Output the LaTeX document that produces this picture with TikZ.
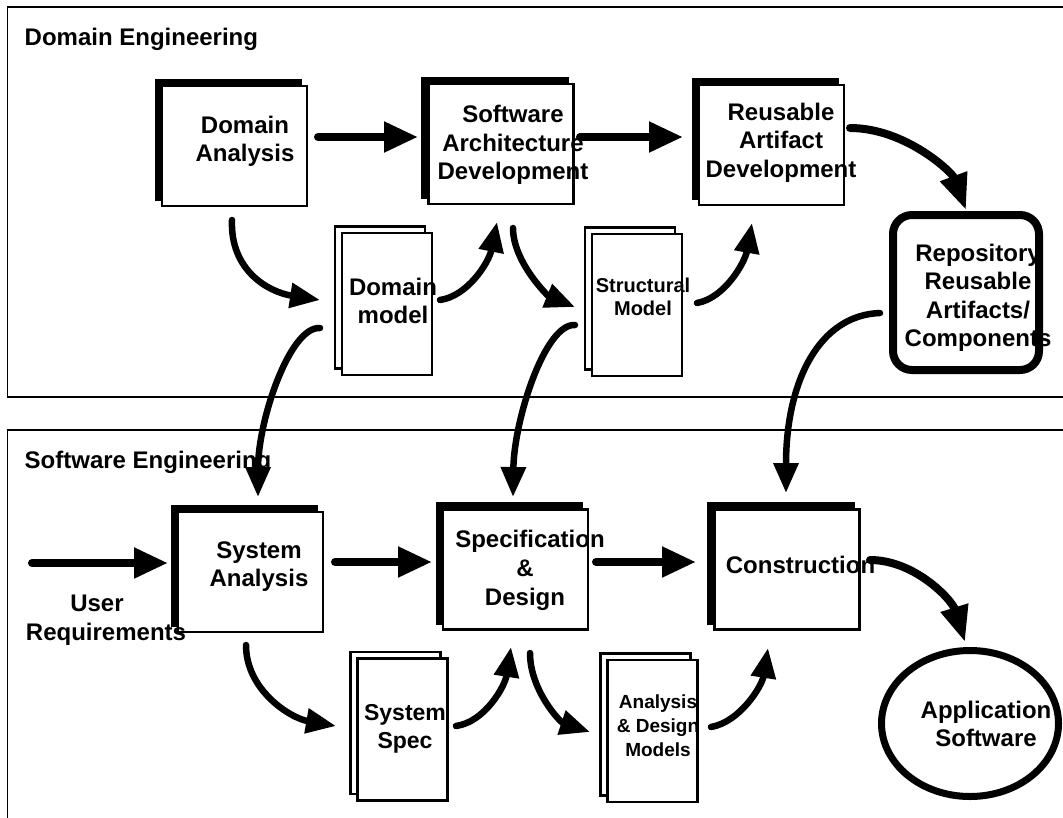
\documentclass[tikz,border=0pt]{standalone}
\usepackage{fontspec}
\setmainfont{Liberation Sans}
\usetikzlibrary{arrows.meta,shapes.geometric,shadows}

\tikzset{
  boxlabel/.style={font=\bfseries\fontsize{24}{28.5}\selectfont, align=center, inner sep=0pt},
  smalllabel/.style={font=\bfseries\fontsize{20}{23}\selectfont, align=center, inner sep=0pt},
  tinylabel/.style={font=\bfseries\fontsize{19}{24}\selectfont, align=center, inner sep=0pt},
  specfont/.style={font=\bfseries\fontsize{23}{28}\selectfont, align=center, inner sep=0pt},
  stepbox/.style={draw=black, fill=white, line width=2.2pt,
    minimum width=145pt, minimum height=120pt, inner sep=0pt, outer sep=0pt,
    general shadow={fill=black, draw=black, shadow xshift=-6pt, shadow yshift=6pt}},
  docsheet/.style={draw=black, fill=white, line width=2.6pt,
    minimum width=90pt, minimum height=142pt, inner sep=0pt, outer sep=0pt,
    general shadow={fill=white, draw=black, line width=2.6pt, shadow xshift=-7pt, shadow yshift=6.5pt}},
  storebox/.style={draw=black, fill=white, line width=8pt, rounded corners=19pt,
    minimum width=146pt, minimum height=155pt, inner sep=0pt, outer sep=0pt},
  productoval/.style={ellipse, draw=black, fill=white, line width=7pt,
    minimum width=177pt, minimum height=146pt, inner sep=0pt, outer sep=0pt},
  panel/.style={draw=black, line width=1.3pt},
  linkstraight/.style={line width=8pt, line cap=round, -{Triangle[length=34pt,width=29pt]}},
  linkcurve/.style={line width=6.5pt, line cap=round, -{Triangle[length=30pt,width=24pt]}},
  linkbig/.style={line width=8pt, line cap=round, -{Triangle[length=36pt,width=27pt]}},
}

\begin{document}
\begin{tikzpicture}[x=1pt,y=-1pt]
  \useasboundingbox (0,0) rectangle (1063,817);
  \clip (0,0) rectangle (1063,817);

  % the two process areas
  \draw[panel] (7.5,7) rectangle (1075,397);
  \draw[panel] (7.5,430) rectangle (1075,840);
  \node[boxlabel, anchor=west] (detitle) at (24.5,39.5) {Domain Engineering};
  \node[boxlabel, anchor=west] (setitle) at (24.5,462.5) {Software Engineering};

  % domain engineering activities
  \node[stepbox, label={[boxlabel, xshift=10.5pt, yshift=4.5pt]center:Domain\\Analysis}] (da) at (234.5,146) {};
  \node[stepbox, label={[boxlabel, xshift=12pt, yshift=-1pt]center:Software\\Architecture\\Development}] (sad) at (501,144) {};
  \node[stepbox, label={[boxlabel, xshift=9.5pt, yshift=2.5pt]center:Reusable\\Artifact\\Development}] (rad) at (771.5,145) {};
  \node[storebox, label={[boxlabel, xshift=12pt, yshift=-5.5pt]center:Repository\\Reusable\\Artifacts/\\Components}] (repo) at (966,292.5) {};

  % domain work products
  \node[docsheet, label={[boxlabel, xshift=6pt, yshift=3pt]center:Domain\\model}] (dm) at (387,304) {};
  \node[docsheet, label={[smalllabel, xshift=6pt, yshift=8.5pt]center:Structural\\Model}] (sm) at (637,305) {};

  % software engineering activities
  \node[stepbox, label={[boxlabel, font=\bfseries\fontsize{24}{29}\selectfont, xshift=9.5pt, yshift=-1pt]center:\hspace*{10pt}Specification\\\&\hspace*{11pt}\\Design}] (sd) at (515.5,569.5) {};
  \node[stepbox, label={[boxlabel, xshift=8.5pt, yshift=5.5pt]center:System\\Analysis}] (sa) at (250.5,572) {};
  \node[stepbox, label={[boxlabel, xshift=13.5pt, yshift=4.5pt]center:Construction}] (con) at (787,569.5) {};
  \node[productoval, label={[boxlabel, xshift=16pt, yshift=-0.5pt]center:Application\\Software}] (app) at (970,723.5) {};

  % software work products
  \node[docsheet, label={[specfont, xshift=2.5pt, yshift=1pt]center:System\\Spec}] (ss) at (402.5,729.5) {};
  \node[docsheet, label={[tinylabel, xshift=5.5pt, yshift=5pt]center:Analysis\\\& Design\\Models}] (ad) at (652.5,731) {};

  \node[boxlabel] (ureqtext) at (101.5,620) {User\hspace*{9pt}\\\hspace*{9pt}Requirements};
  \coordinate (ureq) at (32,563);

  % main flow
  \draw[linkstraight] ([shift={(11,-9)}]da.east) -- ([shift={(-10.5,-7)}]sad.west);
  \draw[linkstraight] ([shift={(6.5,-7)}]sad.east) -- ([shift={(-16,-8)}]rad.west);
  \draw[linkstraight] (ureq) -- ([shift={(-10,-9)}]sa.west);
  \draw[linkstraight] ([shift={(12,-10)}]sa.east) -- ([shift={(-11,-7.5)}]sd.west);
  \draw[linkstraight] ([shift={(8,-7.5)}]sd.east) -- ([shift={(-18.5,-7.5)}]con.west);

  % into and out of the repository
  \draw[linkbig] ([shift={(6,-17)}]rad.east) .. controls +(55,0) and +(-14,-38) .. ([shift={(0,-5)}]repo.north);
  \draw[linkcurve] ([shift={(-13,20.5)}]repo.west) .. controls +(-60,2) and +(0,-113) .. ([shift={(-1,-16.5)}]con.north);
  \draw[linkbig] ([shift={(10.5,-9.5)}]con.east) .. controls +(45,0) and +(-13,-42) .. ([shift={(-5,-8.5)}]app.north);

  % domain work products
  \draw[linkcurve] ([shift={(-2.5,14)}]da.south) .. controls +(-2,50) and +(-52,-8) .. ([shift={(-22,-4)}]dm.west);
  \draw[linkcurve] ([shift={(8,-4)}]dm.east) .. controls +(28,-4) and +(-8,40) .. ([shift={(-4,18)}]sad.south);
  \draw[linkcurve] ([shift={(12,24)}]sad.south) .. controls +(0,34) and +(-27,-11) .. ([shift={(-17,2)}]sm.west);
  \draw[linkcurve] ([shift={(15,-2)}]sm.east) .. controls +(28,-5) and +(-7,39) .. ([shift={(-19.5,18)}]rad.south);
  \draw[linkcurve] ([shift={(-22,24)}]dm.west) .. controls +(-30,-2) and +(0,-77) .. ([shift={(7.5,-15)}]sa.north);
  \draw[linkcurve] ([shift={(-17,20)}]sm.west) .. controls +(-30,-2) and +(1,-77) .. ([shift={(-2.5,-12.5)}]sd.north);

  % software work products
  \draw[linkcurve] ([shift={(-4.5,13)}]sa.south) .. controls +(0,45) and +(-46,-8) .. ([shift={(-21.5,-3.5)}]ss.west);
  \draw[linkcurve] ([shift={(8.5,-3.5)}]ss.east) .. controls +(29,-4) and +(-6,39) .. ([shift={(-4.5,17.5)}]sd.south);
  \draw[linkcurve] ([shift={(14.5,23.5)}]sd.south) .. controls +(0,37) and +(-30,-10) .. ([shift={(-17.5,1)}]ad.west);
  \draw[linkcurve] ([shift={(13.5,-4)}]ad.east) .. controls +(29,-5) and +(-6,38) .. ([shift={(-19,18.5)}]con.south);
\end{tikzpicture}
\end{document}
